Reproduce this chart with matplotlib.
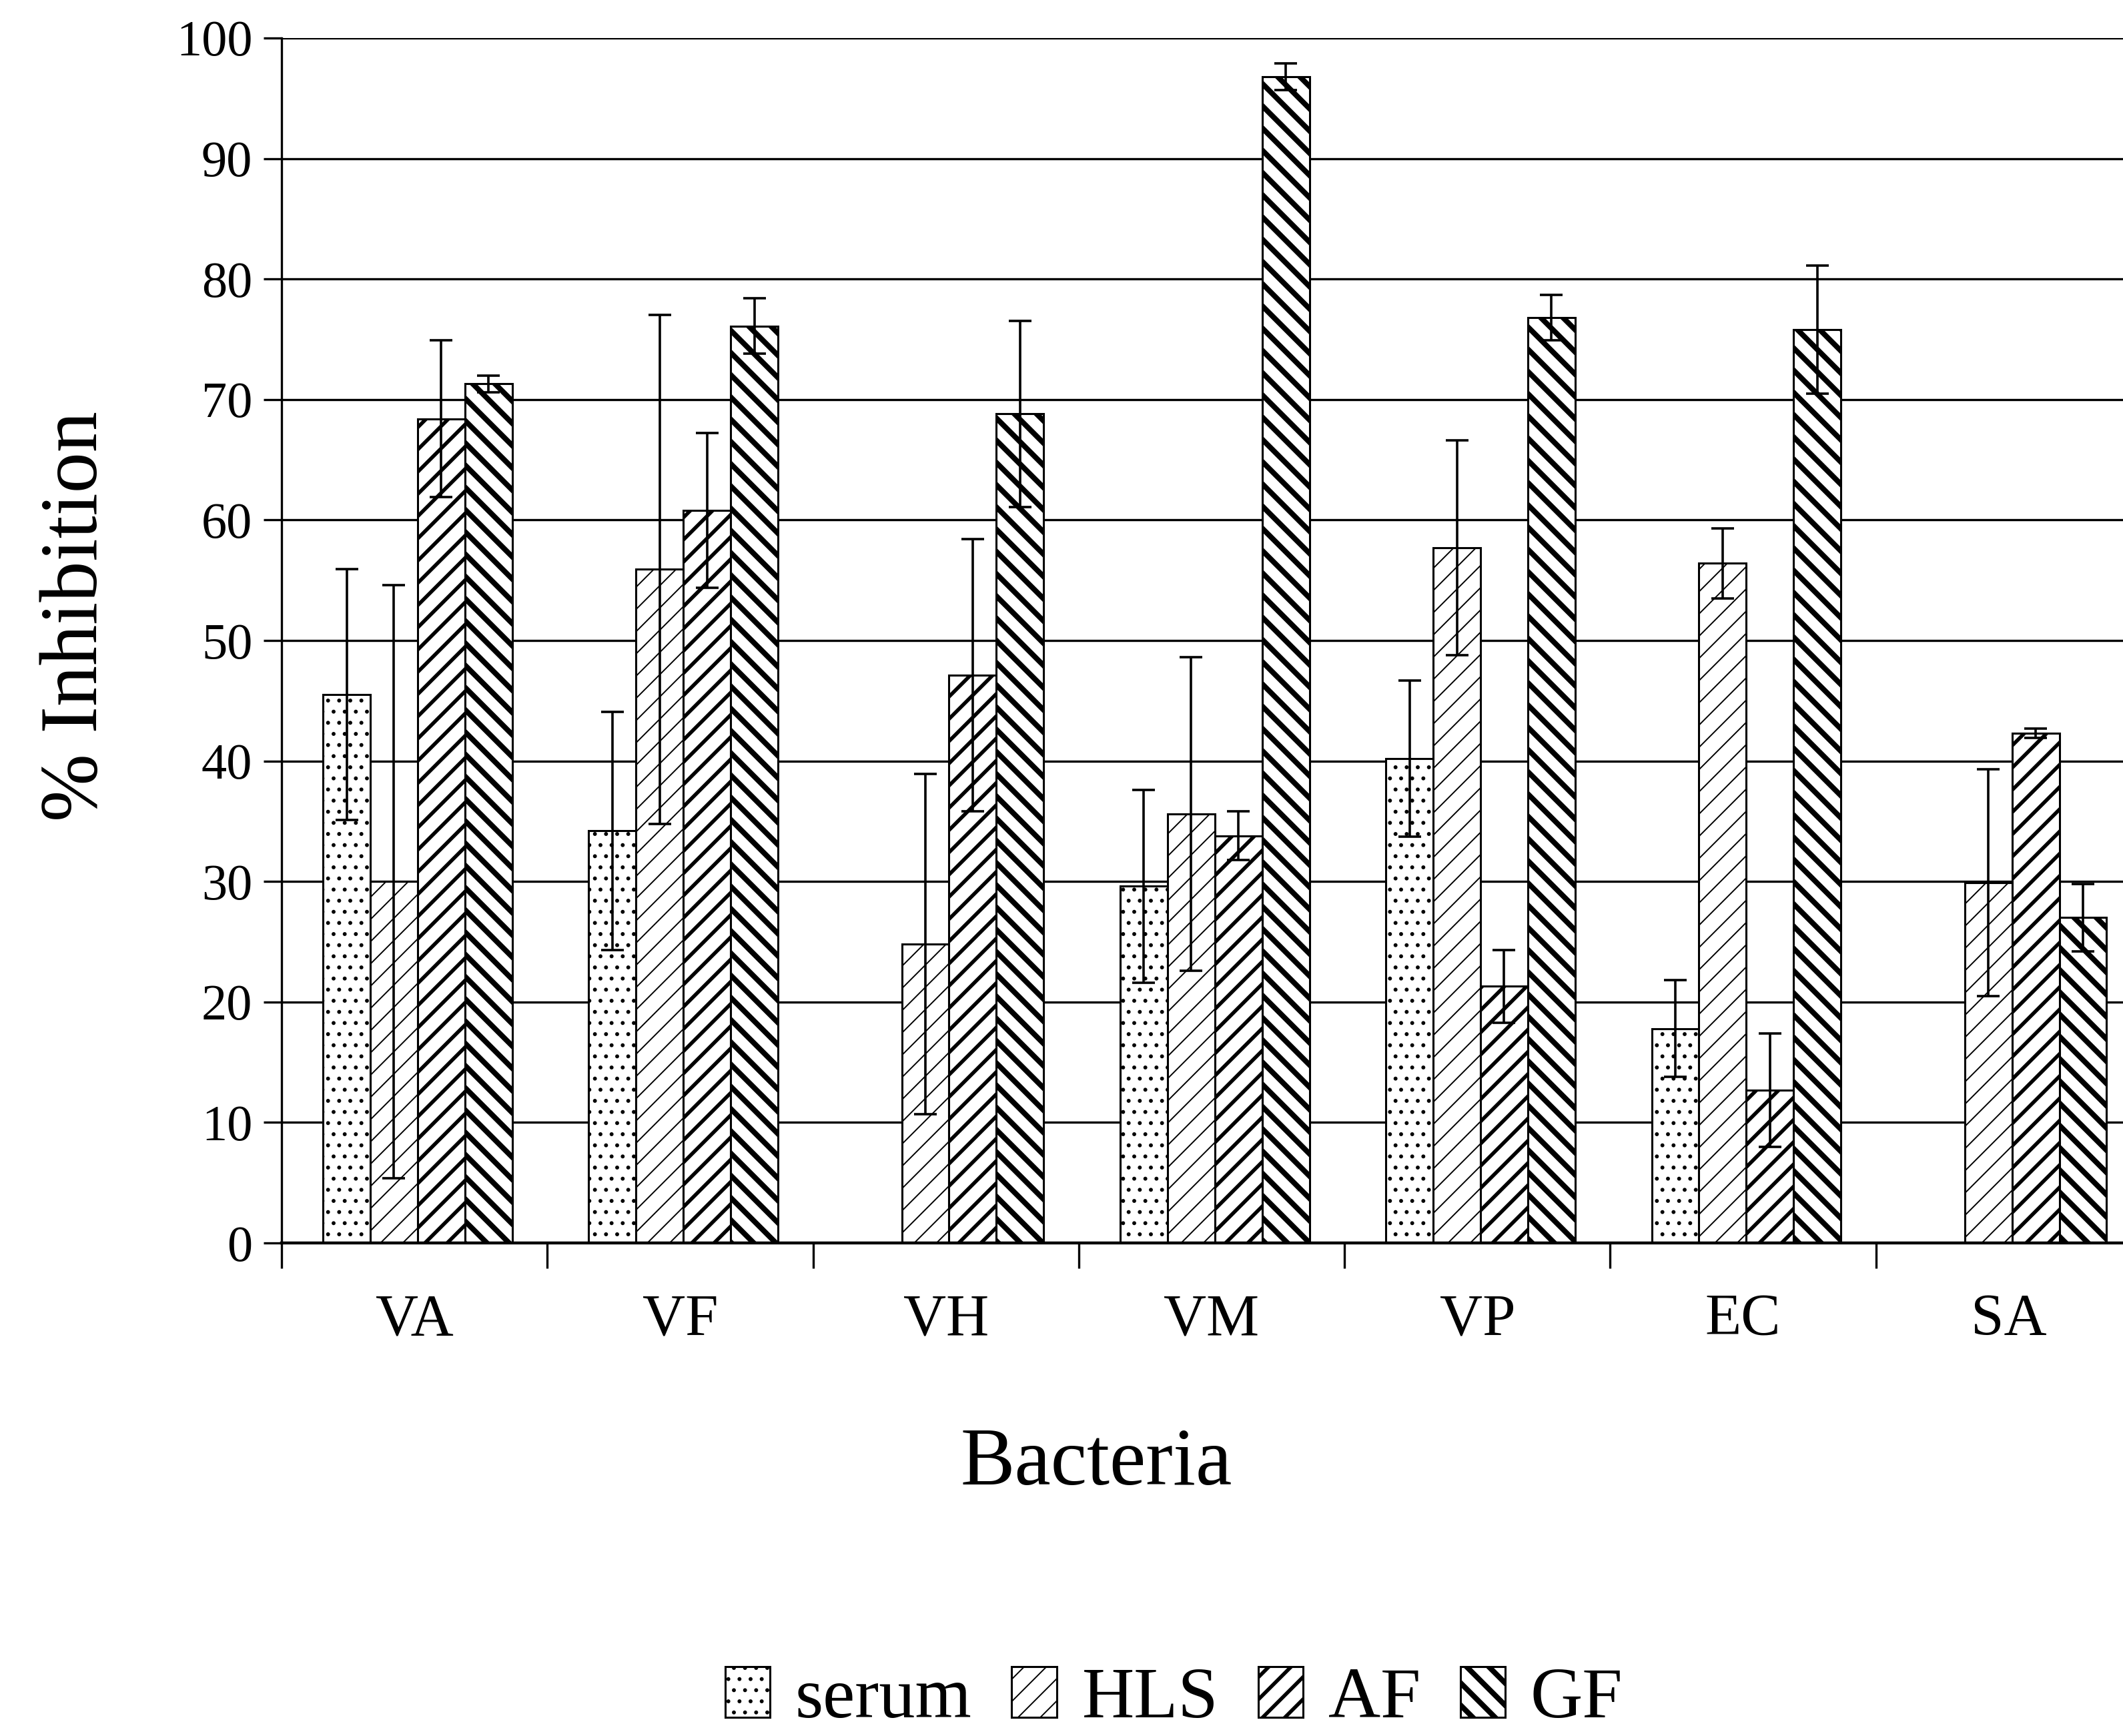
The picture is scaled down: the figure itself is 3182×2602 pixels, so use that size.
import numpy as np
import matplotlib
matplotlib.use("Agg")
import matplotlib.pyplot as plt

plt.rcParams['font.family'] = ['Liberation Serif', 'DejaVu Serif']

# values (% inhibition, mean and error)
bacteria = ["VA", "VF", "VH", "VM", "VP", "EC", "SA"]
series = ["serum", "HLS", "AF", "GF"]

serum = [45.5, 34.2, np.nan, 29.6, 40.2, 17.8, np.nan]
serum_err = [10.4, 9.9, np.nan, 8.0, 6.5, 4.0, np.nan]
hls = [30.0, 55.9, 24.8, 35.6, 57.7, 56.4, 29.9]
hls_err = [24.6, 21.1, 14.1, 13.0, 8.9, 2.9, 9.4]
af = [68.4, 60.8, 47.1, 33.8, 21.3, 12.7, 42.3]
af_err = [6.5, 6.4, 11.3, 2.0, 3.0, 4.7, 0.4]
gf = [71.3, 76.1, 68.8, 96.8, 76.8, 75.8, 27.0]
gf_err = [0.7, 2.3, 7.7, 1.1, 1.9, 5.3, 2.8]

values = [serum, hls, af, gf]
errors = [serum_err, hls_err, af_err, gf_err]
hatches = ['..', '//', '//', '\\\\']
hatch_lw = [0.9, 0.7, 2.0, 2.9]


def set_hlw(patch, lw):
    if hasattr(patch, 'set_hatch_linewidth'):
        patch.set_hatch_linewidth(lw)


fig = plt.figure(figsize=(15.91, 13.01), dpi=200)
ax = fig.add_axes([0.1326, 0.284, 0.8762, 0.6941])

x = np.arange(len(bacteria))
width = 0.178
shift = 0.012

bars = []
for i, name in enumerate(series):
    pos = x + (i - 1.5) * width + shift
    plt.rcParams['hatch.linewidth'] = hatch_lw[i]
    b = ax.bar(pos, values[i], width, color='white', edgecolor='black',
               linewidth=1.1, hatch=hatches[i], label=name, zorder=3)
    for p in b:
        set_hlw(p, hatch_lw[i])
    bars.append(b)
    ax.errorbar(pos, values[i], yerr=errors[i], fmt='none', ecolor='black',
                elinewidth=1.3, capsize=6, capthick=1.3, zorder=4)

ax.set_xlim(-0.5, len(bacteria) - 0.5)
ax.set_ylim(0, 100)
ax.set_yticks(np.arange(0, 101, 10))
ax.set_xticks(np.arange(len(bacteria) + 1) - 0.5)
ax.set_xticklabels([])
ax.set_xticks(x, minor=True)
ax.set_xticklabels(bacteria, minor=True, fontsize=32)
ax.tick_params(axis='x', which='major', direction='out', length=13.5, width=1.2)
ax.tick_params(axis='x', which='minor', length=0, pad=27)
ax.tick_params(axis='y', direction='out', length=9.7, width=1.2, pad=6, labelsize=27.5)

ax.yaxis.grid(True, color='black', linewidth=1.2)
ax.set_axisbelow(True)
for s in ['top', 'right']:
    ax.spines[s].set_visible(False)
ax.spines['left'].set_linewidth(1.2)
ax.spines['bottom'].set_linewidth(1.6)
ax.spines['bottom'].set_zorder(5)

ax.set_ylabel("% Inhibition", fontsize=44, va='center')
ax.yaxis.set_label_coords(-0.11, 0.52)
ax.set_xlabel("Bacteria", fontsize=44, va='center')
ax.xaxis.set_label_coords(0.438, -0.184)

leg = fig.legend(handles=bars, labels=series, loc='center', bbox_to_anchor=(0.553, 0.021),
                 ncol=4, frameon=False, fontsize=39, handlelength=0.62, handleheight=0.71,
                 handletextpad=0.35, columnspacing=0.55, borderpad=0)
for p, lw in zip(leg.get_patches(), hatch_lw):
    set_hlw(p, lw)

fig.savefig("out.png", dpi=200)
